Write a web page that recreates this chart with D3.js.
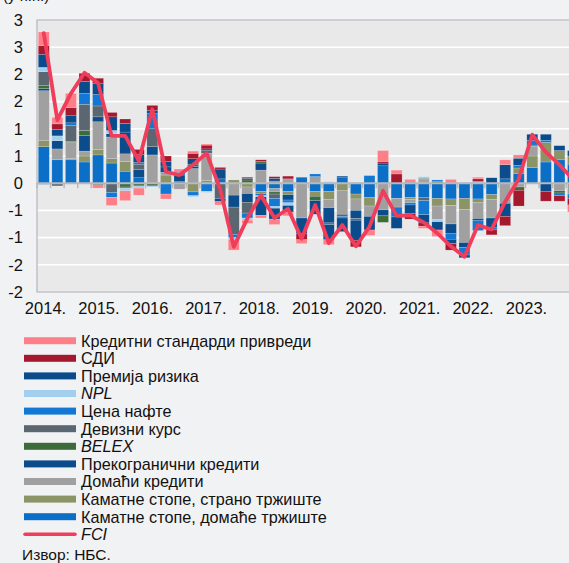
<!DOCTYPE html>
<html><head><meta charset="utf-8">
<script src="https://cdn.jsdelivr.net/npm/d3@7"></script>
<style>
html,body{margin:0;padding:0;background:#f1f2f4;}
svg{display:block;font-family:"Liberation Sans",Arial,sans-serif;}
</style></head><body>
<svg id="c" width="569" height="563"></svg>
<script>
// ---------- DATA ----------
const years = [2014, 2015, 2016, 2017, 2018, 2019, 2020, 2021, 2022, 2023];
const quarterNames = ["Q1", "Q2", "Q3", "Q4"];
const categories = years.flatMap(y => quarterNames.map(q => y + q));
const xTickLabels = ["2014.", "2015.", "2016.", "2017.", "2018.", "2019.", "2020.", "2021.", "2022.", "2023."];
const yTickValues = [3, 2.5, 2, 1.5, 1, 0.5, 0, -0.5, -1, -1.5, -2];
const yTickLabels = ["3", "3", "2", "2", "1", "1", "0", "-1", "-1", "-2", "-2"];

const seriesNames = [
  "Каматне стопе, домаће тржиште",
  "Каматне стопе, страно тржиште",
  "Домаћи кредити",
  "Прекогранични кредити",
  "BELEX",
  "Девизни курс",
  "Цена нафте",
  "NPL",
  "Премија ризика",
  "СДИ",
  "Кредитни стандарди привреди"
];
const italicNames = ["BELEX", "NPL", "FCI"];

const kamatneDomace = [.67,.43,.43,.39,.52,.37,.22,.1,0,0, .03,0,0,.08,0,0,-.15,-.1,-.15,.11, -.15,-.15,.1,-.2,-.26,.32,-.28,-.26,-.26,-.28, -.29,-.28,-.29,-.21,.08,.18,.29,.39,.43,.35];
const kamatneStrano = [.11,0,.02,.11,.1,.08,.18,0,0,.15, 0,-.16,.05,0,.06,-.07,-.04,.04,-.06,0, -.09,-.15,-.14,-.09,-.16,0,0,-.04,.02,-.14, -.12,-.2,-.07,-.09,0,.1,.21,.36,.17,.15];
const domaciKrediti = [.92,.2,.3,.09,.51,.40,.14,0,.52,.05, -.11,.27,.5,0,-.22,-.12,.24,-.06,.08,-.64, .12,-.15,-.43,-.21,-.19,-.49,-.16,-.06,.05,-.25, -.34,-.61,-.29,-.34,-.37,-.07,.18,0,-.14,-.2];
const prekogranicni = [.04,.15,0,.29,.09,.06,.4,.15,.15,.1, .12,.04,0,.18,-.22,-.16,.13,.05,-.1,0, 0,-.28,.03,-.15,0,-.11,0,0,0,0, -.18,-.09,-.04,-.18,.26,0,0,-.15,0,0];
const belex = [.06,0,.02,.09,-.03,0,-.07,-.05,-.05,0, 0,.04,0,0,0,.06,.03,-.04,0,0, -.08,0,0,0,0,-.12,0,0,.02,.03, 0,0,0,0,0,-.06,.02,0,-.04,0];
const devizniKurs = [.25,-.05,.29,.48,.2,-.17,0,.1,.33,0, 0,0,.05,-.28,-.5,-.2,0,-.08,0,0, 0,-.03,-.04,-.03,0,0,0,.02,-.06,0, 0,0,0,0,0,0,0,0,0,0];
const cenaNafte = [-.02,0,.05,.2,.21,-.09,-.02,.03,.28,-.2, .05,-.07,-.15,0,-.06,-.09,-.04,-.15,-.05,0, .05,0,-.03,0,.14,0,-.18,-.04,-.26,.03, -.1,-.14,-.18,-.04,0,.05,.09,.04,-.05,-.08];
const npl = [.08,.09,0,0,0,.06,-.05,-.04,-.02,0, 0,-.02,-.02,0,-.03,-.04,-.02,-.03,-.05,0, 0,.03,0,.02,0,0,0,0,.03,-.04, 0,.02,.03,0,0,0,0,0,0,0];
const premijaRizika = [.24,.12,.13,.22,.2,.25,.16,.15,.06,.1, 0,.1,.03,-.06,0,.03,-.34,-.2,-.12,-.28, -.25,-.28,-.25,-.37,-.25,.05,-.21,-.16,-.15,-.15, -.08,-.05,0,.1,-.24,.13,.11,.11,.09,.1];
const sdi = [.16,.1,.15,.15,.1,.08,.08,.09,.09,.1, 0,.1,.07,.03,0,.02,.03,.03,.05,-.12, 0,0,0,-.12,0,.03,.17,-.1,-.06,0, -.12,0,.05,-.09,-.17,-.29,0,-.18,-.1,-.12];
const kreditniStandardi = [.25,.12,.26,0,-.06,-.15,-.18,-.13,0,-.09, .06,.04,.02,-.06,-.2,-.06,-.05,-.1,-.07,-.07, 0,-.09,0,0,-.1,.2,.07,.05,-.04,-.12, .07,0,.03,0,.09,.06,-.01,0,0,-.13];
const fci = [2.76,1.16,1.65,2.03,1.84,0.87,0.87,0.41,1.36,0.21, 0.15,0.34,0.55,-0.11,-1.17,-0.65,-0.22,-0.64,-0.47,-1.02, -0.4,-1.1,-0.77,-1.16,-0.8,-0.14,-0.6,-0.59,-0.72,-0.92, -1.16,-1.35,-0.77,-0.85,-0.34,0.08,0.89,0.57,0.34,0.07];

const seriesValues = [kamatneDomace, kamatneStrano, domaciKrediti, prekogranicni, belex, devizniKurs, cenaNafte, npl, premijaRizika, sdi, kreditniStandardi];

// ---------- STYLES ----------
const seriesColors = ["#0b6fc7", "#8b9467", "#a0a0a1", "#0c4c8b", "#3e6b3a", "#5b6770", "#1278d3", "#a3cfef", "#0a4b8b", "#a5192f", "#ff7f88"];
const fciColor = "#ef3d5b";
const font = '"Liberation Sans",Arial,sans-serif';

// ---------- CHART ----------
const svg = d3.select("#c");
const plotL = 37, plotT = 20, plotB = 292, step = 13.57;
const x = d3.scaleBand().domain(categories)
  .range([plotL, plotL + step * categories.length])
  .paddingInner(0.19).paddingOuter(0.095);
const y = d3.scaleLinear().domain([-2, 3]).range([plotB, plotT]);
const xYear = d3.scalePoint().domain(xTickLabels).range([45, 526]);

// plot background
svg.append("rect").attr("x", plotL).attr("y", plotT).attr("width", 569 - plotL + 5).attr("height", plotB - plotT)
  .attr("fill", "#e9e9ea");

// gridlines
svg.append("g").selectAll("line")
  .data(yTickValues.filter(v => v !== 0 && v !== 3 && v !== -2))
  .join("line")
  .attr("x1", plotL).attr("x2", 569)
  .attr("y1", d => y(d)).attr("y2", d => y(d))
  .attr("stroke", "#ffffff").attr("stroke-width", 1.6);

// border
svg.append("path")
  .attr("d", `M569,${y(3)}H${plotL}V${y(-2)}H569`)
  .attr("fill", "none").attr("stroke", "#c4c4c6").attr("stroke-width", 1.6);

// stacked bars
const rows = categories.map((c, i) => {
  const o = { cat: c };
  seriesNames.forEach((n, k) => o[n] = seriesValues[k][i]);
  return o;
});
const stack = d3.stack().keys(seriesNames).order(d3.stackOrderNone).offset(d3.stackOffsetDiverging);
const stacked = stack(rows);

svg.append("g").selectAll("g")
  .data(stacked)
  .join("g")
  .attr("fill", (d, i) => seriesColors[i])
  .selectAll("rect")
  .data(d => d)
  .join("rect")
  .attr("x", d => x(d.data.cat))
  .attr("width", x.bandwidth())
  .attr("y", d => y(Math.max(d[0], d[1])))
  .attr("height", d => Math.abs(y(d[0]) - y(d[1])))
  .attr("stroke", "#ffffff").attr("stroke-opacity", 0.35).attr("stroke-width", 0.5);

// zero line with category ticks
const zeroY = y(0);
svg.append("line").attr("x1", plotL).attr("x2", 569).attr("y1", zeroY).attr("y2", zeroY)
  .attr("stroke", "#b9b9bb").attr("stroke-width", 2);
svg.append("g").selectAll("line")
  .data(categories)
  .join("line")
  .attr("x1", d => x(d) - x.step() * x.paddingInner() / 2)
  .attr("x2", d => x(d) - x.step() * x.paddingInner() / 2)
  .attr("y1", zeroY).attr("y2", zeroY + 5)
  .attr("stroke", "#b9b9bb").attr("stroke-width", 1.5);

// FCI line
const line = d3.line()
  .x((d, i) => x(categories[i]) + x.bandwidth() / 2)
  .y(d => y(d));
svg.append("path").datum(fci)
  .attr("d", line)
  .attr("fill", "none").attr("stroke", fciColor).attr("stroke-width", 3.8)
  .attr("stroke-linejoin", "round").attr("stroke-linecap", "round");

// axes
const yAxis = svg.append("g").attr("transform", `translate(${plotL},0)`)
  .call(d3.axisLeft(y).tickValues(yTickValues).tickFormat((d, i) => yTickLabels[i]).tickSize(0).tickPadding(14));
yAxis.select(".domain").remove();
yAxis.selectAll("text").attr("font-size", 16.5).attr("fill", "#111").attr("font-family", font);

const xAxis = svg.append("g").attr("transform", `translate(0,${plotB})`)
  .call(d3.axisBottom(xYear).tickSize(0).tickPadding(10));
xAxis.select(".domain").remove();
xAxis.selectAll("text").attr("font-size", 16.5).attr("fill", "#111").attr("font-family", font);

// unit label (cut off at the top, as in the source)
svg.append("text").attr("x", 3).attr("y", 1).attr("font-size", 15).attr("fill", "#111").text("(у п.п.)");

// legend
const legendItems = seriesNames.map((n, i) => ({ name: n, color: seriesColors[i], type: "bar" })).reverse();
legendItems.push({ name: "FCI", color: fciColor, type: "line" });
const lg = svg.append("g").selectAll("g")
  .data(legendItems)
  .join("g")
  .attr("transform", (d, i) => `translate(0,${340.7 + i * 17.6})`);
lg.filter(d => d.type === "bar").append("rect")
  .attr("x", 24).attr("y", -3.5).attr("width", 52).attr("height", 7).attr("fill", d => d.color);
lg.filter(d => d.type === "line").append("line")
  .attr("x1", 25).attr("x2", 75).attr("y1", 0).attr("y2", 0)
  .attr("stroke", d => d.color).attr("stroke-width", 3.5).attr("stroke-linecap", "round");
lg.append("text")
  .attr("x", 81).attr("y", 0).attr("dy", "0.36em")
  .attr("font-size", 16.2).attr("fill", "#111")
  .attr("font-style", d => italicNames.includes(d.name) ? "italic" : "normal")
  .text(d => d.name);

svg.append("text").attr("x", 22).attr("y", 560).attr("font-size", 15.5).attr("fill", "#111").text("Извор: НБС.");
</script>
</body></html>
